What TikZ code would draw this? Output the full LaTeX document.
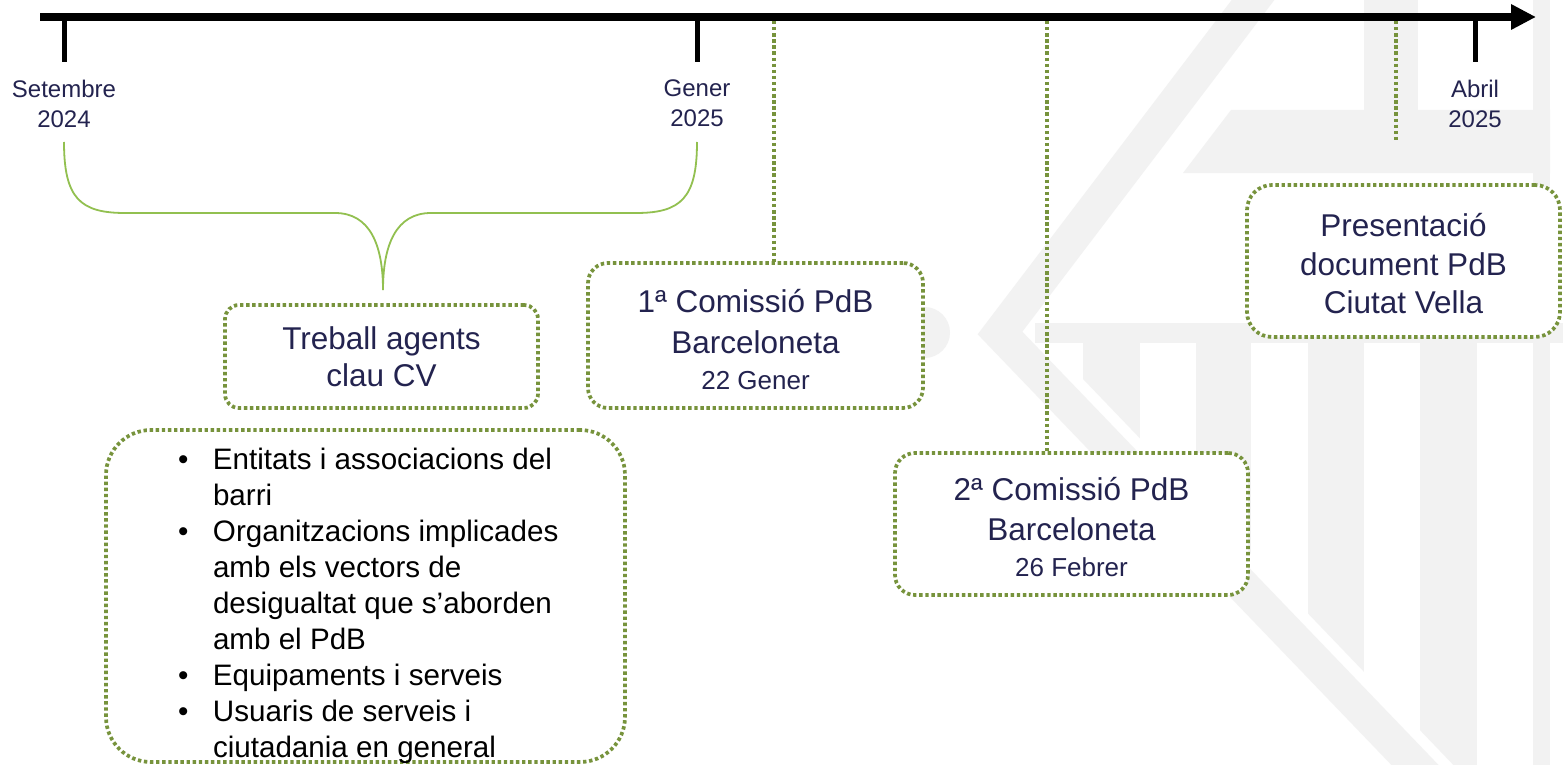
\documentclass[tikz,border=0pt]{standalone}
\usepackage{fontspec}
\setmainfont{Liberation Sans}
\usetikzlibrary{arrows.meta}
\definecolor{navy}{HTML}{23234F}
\definecolor{dotgreen}{HTML}{77933C}
\definecolor{bracegreen}{HTML}{92C050}
\definecolor{wm}{HTML}{F2F2F2}
\begin{document}
\begin{tikzpicture}[x=1pt,y=-1pt,
  every node/.style={inner sep=0pt, outer sep=0pt},
  datelabel/.style={text=navy, align=center, font=\fontsize{24}{30}\selectfont},
  eventbox/.style={draw=dotgreen, line width=3.7pt, dash pattern=on 3.4pt off 2.7pt,
    rounded corners=20pt, fill=white, text=navy, align=center,
    font=\fontsize{31.5}{38.5}\selectfont},
  dotlink/.style={draw=dotgreen, line width=3.7pt, dash pattern=on 3.4pt off 2.7pt},
  tickmark/.style={draw=black, line width=5pt},
  bracepath/.style={draw=bracegreen, line width=1.8pt},
]
\useasboundingbox (0,0) rectangle (1563,765);
\fill[white] (0,0) rectangle (1563,765);
% faint watermark
\begin{scope}
  \clip (0,0) rectangle (1563,765);
  \fill[wm] (924.5,332.5) circle (25.5);
  \draw[wm, line width=34pt, miter limit=10] (1268.2,-20) -- (1000,333) -- (1434.2,785);
  \fill[wm] (1231,110) -- (1550,110) -- (1550,173) -- (1183,173) -- cycle;
  \fill[wm] (1364,0) rectangle (1418,110);
  \fill[wm] (1533,0) rectangle (1550,765);
  \fill[wm] (1035,323) rectangle (1563,343);
  \begin{scope}
    \clip (988,280) -- (1487,800) -- (1600,800) -- (1600,280) -- cycle;
    \fill[wm] (1083,343) rectangle (1140,800);
    \fill[wm] (1196,343) rectangle (1251,800);
    \fill[wm] (1308,343) rectangle (1364,800);
    \fill[wm] (1420,343) rectangle (1477,800);
  \end{scope}
\end{scope}
% brace
\coordinate (braceL) at (64,142);
\coordinate (braceR) at (697,142);
\coordinate (braceTip) at (383,290);
\draw[bracepath] (braceL) .. controls (64,198) and (80,213) .. (125,213) -- (335,213)
  .. controls (370,213) and (383,245) .. (braceTip);
\draw[bracepath] (braceR) .. controls (697,198) and (681,213) .. (636,213) -- (431,213)
  .. controls (396,213) and (383,245) .. (braceTip);
% boxes
\node[eventbox, minimum width=313pt, minimum height=103pt, rounded corners=14pt,
  font=\fontsize{31.5}{37}\selectfont] (treball) at (381.5,356.5) {Treball agents\\clau CV};
\node[eventbox, minimum width=519pt, minimum height=332pt, rounded corners=45pt] (agents) at (365.5,596) {};
\node[anchor=north west, align=left, font=\fontsize{29.6}{36}\selectfont, text=black] (items) at (178,448.5)
 {\makebox[35pt][l]{•}Entitats i associacions del\\
  \makebox[35pt]{}barri\\
  \makebox[35pt][l]{•}Organitzacions implicades\\
  \makebox[35pt]{}amb els vectors de\\
  \makebox[35pt]{}desigualtat que s’aborden\\
  \makebox[35pt]{}amb el PdB\\
  \makebox[35pt][l]{•}Equipaments i serveis\\
  \makebox[35pt][l]{•}Usuaris de serveis i\\
  \makebox[35pt]{}ciutadania en general};
\node[eventbox, minimum width=335pt, minimum height=145pt] (com1) at (755.5,335.5)
 {\rule{0pt}{31pt}1ª Comissió PdB\\[2pt]Barceloneta\\[-2.5pt]{\fontsize{26}{30}\selectfont 22 Gener}};
\node[eventbox, minimum width=353pt, minimum height=142pt] (com2) at (1071.5,524)
 {\rule{0pt}{29pt}2ª Comissió PdB\\[2pt]Barceloneta\\[-2.5pt]{\fontsize{26}{30}\selectfont 26 Febrer}};
\node[eventbox, minimum width=313pt, minimum height=152pt, rounded corners=25pt] (pres) at (1403.5,261)
 {\rule{0pt}{29pt}Presentació\\document PdB\\Ciutat Vella};
% connectors
\coordinate (c1) at (774,21);
\coordinate (c2) at (1047,21);
\coordinate (c3) at (1396,21);
\coordinate (c3end) at (1396,140);
\draw[dotlink] (c1) -- (c1 |- com1.north);
\draw[dotlink] (c2) -- (c2 |- com2.north);
\draw[dotlink] (c3) -- (c3end);
% timeline
\coordinate (tlstart) at (40,17);
\coordinate (tlend) at (1536,17);
\draw[line width=7.7pt, -{Triangle[length=25pt,width=24pt]}] (tlstart) -- (tlend);
\coordinate (tk1) at (64,17);
\coordinate (tk2) at (697,17);
\coordinate (tk3) at (1475,17);
\draw[tickmark] (tk1) -- ++(0,45);
\draw[tickmark] (tk2) -- ++(0,45);
\draw[tickmark] (tk3) -- ++(0,45);
% date labels
\node[datelabel] (dSet) at (64,103.5) {Setembre\\2024};
\node[datelabel] (dGen) at (697,103.5) {Gener\\2025};
\node[datelabel] (dAbr) at (1475,103.5) {Abril\\2025};
\end{tikzpicture}
\end{document}
